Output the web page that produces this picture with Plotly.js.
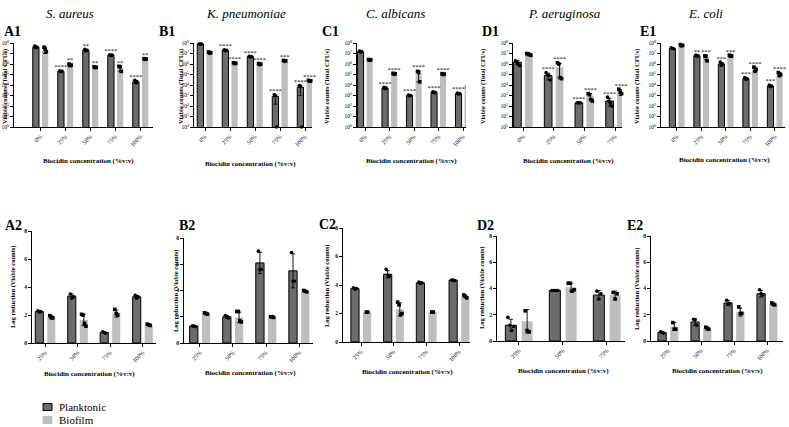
<!DOCTYPE html>
<html><head><meta charset="utf-8">
<script src="https://cdn.plot.ly/plotly-3.0.1.min.js"></script>
<style>html,body{margin:0;padding:0;background:#fff}#chart{width:789px;height:427px}</style>
</head><body><div id="chart"></div>
<script>
// ---- Concentration categories ----
const concFull = ['0%', '25%', '50%', '75%', '100%'];
const concD1 = ['0%', '25%', '50%', '75%'];
const concRed = ['25%', '50%', '75%', '100%'];
const concRedD = ['25%', '50%', '75%'];

// ---- Row 1: viable counts (total CFUs) ----
// S. aureus
const A1_plank = [4e7, 2e5, 2e7, 7e6, 2e4];
const A1_plankUp = [1e7, 3e4, 5e6, 1e6, 8e3];
const A1_plankDn = [1e7, 3e4, 5e6, 1e6, 6e3];
const A1_plankPts = [[5e7, 3.5e7, 4e7], [2.2e5, 1.8e5, 2e5], [2.5e7, 1.8e7, 2e7], [7.5e6, 6.5e6, 7e6], [2.8e4, 1.6e4, 2e4]];
const A1_bio = [2e7, 8e5, 5e5, 4e5, 3e6];
const A1_bioUp = [2e7, 2e5, 5e4, 2e5, 3e5];
const A1_bioDn = [1e7, 2e5, 5e4, 2e5, 3e5];
const A1_bioPts = [[4e7, 2.5e7, 1.5e7], [1e6, 7e5, 8e5], [5.5e5, 4.5e5, 5e5], [6e5, 5.5e5, 2e5], [3.2e6, 2.8e6, 3e6]];
const A1_plankSig = ['', '****', '**', '****', '****'];
const A1_bioSig = ['', '**', '**', '**', '**'];

// K. pneumoniae
const B1_plank = [8e7, 2e7, 5e6, 8e2, 6e3];
const B1_plankUp = [5e6, 2e6, 5e5, 4e2, 3e3];
const B1_plankDn = [5e6, 2e6, 5e5, 6.5e2, 5e3];
const B1_plankPts = [[8.5e7, 7.5e7, 8e7], [2.2e7, 1.8e7, 2e7], [5.5e6, 4.5e6, 5e6], [1.2e3, 1e3, 1], [9e3, 8e3, 1]];
const B1_bio = [1.2e7, 1.2e6, 1e6, 2e6, 2.5e4];
const B1_bioUp = [2e6, 1e5, 1e5, 2e5, 3e3];
const B1_bioDn = [2e6, 1e5, 1e5, 2e5, 3e3];
const B1_bioPts = [[1.4e7, 1.1e7, 1.2e7], [1.3e6, 1.1e6, 1.2e6], [1.1e6, 9e5, 1e6], [2.2e6, 1.9e6, 2e6], [2.8e4, 2.3e4, 2.5e4]];
const B1_plankSig = ['', '****', '****', '****', '****'];
const B1_bioSig = ['', '****', '****', '***', '****'];

// C. albicans
const C1_plank = [1.5e7, 5e3, 1e3, 2e3, 1.5e3];
const C1_plankUp = [2e6, 1e3, 1e2, 3e2, 2e2];
const C1_plankDn = [2e6, 1e3, 1e2, 3e2, 2e2];
const C1_plankPts = [[1.7e7, 1.4e7, 1.5e7], [6e3, 4.5e3, 5e3], [1.1e3, 9e2, 1e3], [2.3e3, 1.8e3, 2e3], [1.7e3, 1.4e3, 1.5e3]];
const C1_bio = [2.5e6, 1.2e5, 1.2e5, 1.1e5, 8e3];
const C1_bioUp = [2e5, 1e4, 1e5, 1e4, 1e3];
const C1_bioDn = [2e5, 1e4, 1e5, 1e4, 1e3];
const C1_bioPts = [[2.7e6, 2.3e6, 2.5e6], [1.3e5, 1.1e5, 1.2e5], [2e5, 1.6e5, 2e4], [1.2e5, 1e5, 1.1e5], [9e3, 7e3, 8e3]];
const C1_plankSig = ['', '****', '****', '****', '****'];
const C1_bioSig = ['', '****', '****', '****', '****'];

// P. aeruginosa
const D1_plank = [1.5e6, 8e4, 2e2, 3e2];
const D1_plankUp = [6e5, 5e4, 2e1, 2.5e2];
const D1_plankDn = [6e5, 5e4, 2e1, 2e2];
const D1_plankPts = [[2e6, 1.5e6, 1e6, 7e5], [1.5e5, 1e5, 8e4, 3e4], [2e2, 2e2, 2e2], [7e2, 3e2, 2e2, 1e2]];
const D1_bio = [8e6, 5e5, 1e3, 2e3];
const D1_bioUp = [2e6, 6e5, 5e2, 1.5e3];
const D1_bioDn = [2e6, 4.5e5, 6e2, 1e3];
const D1_bioPts = [[1e7, 9e6, 8e6, 7e6], [1.3e6, 1e6, 5e4, 4e4], [1.5e3, 1.2e3, 4e2, 3e2], [4e3, 2e3, 1.5e3, 1e3]];
const D1_plankSig = ['', '****', '****', '****'];
const D1_bioSig = ['', '****', '****', '****'];

// E. coli
const E1_plank = [3e7, 6e6, 1e6, 4e4, 8e3];
const E1_plankUp = [4e6, 8e5, 4e5, 8e3, 2e3];
const E1_plankDn = [4e6, 8e5, 4e5, 8e3, 2e3];
const E1_plankPts = [[3.5e7, 3e7, 2.8e7], [7e6, 5.5e6, 6e6], [1.5e6, 8e5, 1e6], [5e4, 3.5e4, 4e4], [1e4, 7e3, 8e3]];
const E1_bio = [6e7, 5e6, 6e6, 3e5, 1e5];
const E1_bioUp = [1e7, 1.5e6, 8e5, 2e5, 5e4];
const E1_bioDn = [1e7, 2.5e6, 8e5, 1e5, 3e4];
const E1_bioPts = [[7e7, 5.5e7, 6e7], [6e6, 5.5e6, 2e6], [7e6, 5.5e6, 6e6], [5e5, 2e5, 3e5], [1.5e5, 8e4, 1e5]];
const E1_plankSig = ['', '**', '***', '***', '***'];
const E1_bioSig = ['', '***', '***', '****', '****'];

// ---- Row 2: log reduction (viable counts) ----
const A2_plank = [2.25, 3.35, 0.75, 3.3];
const A2_plankErr = [0.05, 0.15, 0.05, 0.1];
const A2_plankPts = [[2.3, 2.2, 2.25], [3.5, 3.2, 3.3], [0.8, 0.75, 0.7], [3.4, 3.2, 3.3]];
const A2_bio = [1.85, 1.65, 2.1, 1.3];
const A2_bioErr = [0.1, 0.4, 0.25, 0.05];
const A2_bioPts = [[1.95, 1.8, 1.8], [2.05, 2.0, 1.4, 1.2], [2.4, 2.1, 2.0], [1.35, 1.3, 1.25]];

const B2_plank = [1.3, 2.0, 6.1, 5.5];
const B2_plankErr = [0.05, 0.1, 0.8, 1.3];
const B2_plankPts = [[1.3, 1.3, 1.25], [2.1, 2.0, 1.9], [7.0, 5.6, 5.6], [6.9, 4.7, 4.7]];
const B2_bio = [2.25, 1.95, 2.0, 3.95];
const B2_bioErr = [0.05, 0.4, 0.03, 0.05];
const B2_bioPts = [[2.3, 2.25, 2.2], [2.4, 2.4, 1.7, 1.6], [2.0, 2.0, 1.95], [4.0, 3.95, 3.9]];

const C2_plank = [3.75, 4.75, 4.15, 4.35];
const C2_plankErr = [0.05, 0.25, 0.05, 0.03];
const C2_plankPts = [[3.8, 3.7, 3.75], [5.1, 4.7, 4.6], [4.2, 4.1, 4.15], [4.35, 4.35, 4.3]];
const C2_bio = [2.1, 2.3, 2.1, 3.2];
const C2_bioErr = [0, 0.45, 0, 0.08];
const C2_bioPts = [[2.1, 2.1], [2.8, 2.6, 1.9, 2.0], [2.1, 2.1], [3.3, 3.2, 3.1]];

const D2_plank = [1.2, 3.85, 3.5];
const D2_plankErr = [0.45, 0, 0.35];
const D2_plankPts = [[1.8, 1.2, 0.8, 1.1], [3.85, 3.85, 3.85, 3.85], [3.8, 3.2, 3.6]];
const D2_bio = [1.5, 4.1, 3.5];
const D2_bioErr = [0.9, 0.3, 0.3];
const D2_bioPts = [[2.3, 0.8, 0.7], [4.4, 4.4, 3.8, 3.9], [3.7, 3.2, 3.6]];

const E2_plank = [0.65, 1.45, 2.9, 3.6];
const E2_plankErr = [0.05, 0.25, 0.2, 0.25];
const E2_plankPts = [[0.7, 0.65, 0.6], [1.65, 1.6, 1.2], [3.1, 2.8, 2.85], [3.9, 3.6, 3.5]];
const E2_bio = [1.1, 0.95, 2.2, 2.8];
const E2_bioErr = [0.3, 0.1, 0.3, 0.1];
const E2_bioPts = [[1.4, 0.9, 0.9], [1.05, 0.95, 0.9], [2.6, 2.1, 2.1], [2.9, 2.8, 2.75]];

const speciesNames = ['S. aureus', 'K. pneumoniae', 'C. albicans', 'P. aeruginosa', 'E. coli'];
const legendNames = ['Planktonic', 'Biofilm'];

// ---- Styling ----
const W = 789, H = 427;
const DARK = '#6c6c6c', LIGHT = '#bebebe';
const SERIF = 'Liberation Serif';
const OFF = 0.185, BW = 0.25;

// Panel frames in pixels: [left, right, top, bottom], plus x ranges
const panels = [
  {cats: concFull, plank: A1_plank, pUp: A1_plankUp, pDn: A1_plankDn, pPts: A1_plankPts,
   bio: A1_bio, bUp: A1_bioUp, bDn: A1_bioDn, bPts: A1_bioPts, pSig: A1_plankSig, bSig: A1_bioSig,
   log: true, box: [14, 153, 43, 127], xr: [-1.06, 4.5]},
  {cats: concFull, plank: B1_plank, pUp: B1_plankUp, pDn: B1_plankDn, pPts: B1_plankPts,
   bio: B1_bio, bUp: B1_bioUp, bDn: B1_bioDn, bPts: B1_bioPts, pSig: B1_plankSig, bSig: B1_bioSig,
   log: true, box: [194, 312, 43, 127], xr: [-0.44, 4.28]},
  {cats: concFull, plank: C1_plank, pUp: C1_plankUp, pDn: C1_plankDn, pPts: C1_plankPts,
   bio: C1_bio, bUp: C1_bioUp, bDn: C1_bioDn, bPts: C1_bioPts, pSig: C1_plankSig, bSig: C1_bioSig,
   log: true, box: [357, 466, 43, 127], xr: [-0.33, 4.12]},
  {cats: concD1, plank: D1_plank, pUp: D1_plankUp, pDn: D1_plankDn, pPts: D1_plankPts,
   bio: D1_bio, bUp: D1_bioUp, bDn: D1_bioDn, bPts: D1_bioPts, pSig: D1_plankSig, bSig: D1_bioSig,
   log: true, box: [513, 622, 43, 127], xr: [-0.33, 3.22]},
  {cats: concFull, plank: E1_plank, pUp: E1_plankUp, pDn: E1_plankDn, pPts: E1_plankPts,
   bio: E1_bio, bUp: E1_bioUp, bDn: E1_bioDn, bPts: E1_bioPts, pSig: E1_plankSig, bSig: E1_bioSig,
   log: true, box: [661, 785, 43, 127], xr: [-0.65, 4.41]},
  {cats: concRed, plank: A2_plank, pUp: A2_plankErr, pDn: A2_plankErr, pPts: A2_plankPts,
   bio: A2_bio, bUp: A2_bioErr, bDn: A2_bioErr, bPts: A2_bioPts,
   log: false, box: [32, 156, 231, 343], xr: [-0.41, 3.41]},
  {cats: concRed, plank: B2_plank, pUp: B2_plankErr, pDn: B2_plankErr, pPts: B2_plankPts,
   bio: B2_bio, bUp: B2_bioErr, bDn: B2_bioErr, bPts: B2_bioPts,
   log: false, box: [184, 313, 238, 343], xr: [-0.48, 3.42]},
  {cats: concRed, plank: C2_plank, pUp: C2_plankErr, pDn: C2_plankErr, pPts: C2_plankPts,
   bio: C2_bio, bUp: C2_bioErr, bDn: C2_bioErr, bPts: C2_bioPts,
   log: false, box: [343, 470, 228, 342], xr: [-0.55, 3.33]},
  {cats: concRedD, plank: D2_plank, pUp: D2_plankErr, pDn: D2_plankErr, pPts: D2_plankPts,
   bio: D2_bio, bUp: D2_bioErr, bDn: D2_bioErr, bPts: D2_bioPts,
   log: false, box: [497, 625, 236, 341], xr: [-0.5, 2.41]},
  {cats: concRed, plank: E2_plank, pUp: E2_plankErr, pDn: E2_plankErr, pPts: E2_plankPts,
   bio: E2_bio, bUp: E2_bioErr, bDn: E2_bioErr, bPts: E2_bioPts,
   log: false, box: [651, 783, 236, 341], xr: [-0.52, 3.48]}
];

// Text placements in pixels
const panelTags = [
  ['A1', 2, 32], ['B1', 157, 32], ['C1', 320, 32], ['D1', 480, 32], ['E1', 638, 32],
  ['A2', 3, 225], ['B2', 177, 225], ['C2', 317, 224], ['D2', 475, 225], ['E2', 625, 225]
];
const speciesPos = [[70, 13], [246, 13], [395, 13], [564, 13], [705, 13]];
const xTitlePos = [[88, 161], [250, 164], [411, 161], [568, 161], [724, 160],
                   [89, 374], [250, 373], [407, 372], [563, 371], [717, 371]];
const yTitlePos = [[5, 87], [181, 87], [327, 87], [483, 87], [637, 87],
                   [13, 287], [176, 291], [327, 286], [482, 288], [637, 289]];

const px = v => v / W;
const py = v => 1 - v / H;

const traces = [];
const layout = {
  width: W, height: H,
  margin: {l: 0, r: 0, t: 0, b: 0},
  paper_bgcolor: '#fff', plot_bgcolor: 'rgba(0,0,0,0)',
  showlegend: false, barmode: 'overlay',
  font: {family: SERIF, color: '#000'},
  annotations: [], shapes: []
};

const logTickVals = [0, 1, 2, 3, 4, 5, 6, 7, 8].map(e => Math.pow(10, e));
const logTickText = [0, 1, 2, 3, 4, 5, 6, 7, 8].map(e => '10<sup>' + e + '</sup>');

panels.forEach((p, k) => {
  const n = k + 1;
  const xa = 'x' + (n === 1 ? '' : n), ya = 'y' + (n === 1 ? '' : n);
  const idx = p.cats.map((c, i) => i);
  const [l, r, t, b] = p.box;

  layout['xaxis' + (n === 1 ? '' : n)] = {
    domain: [px(l), px(r)], anchor: ya, range: p.xr,
    tickvals: idx, ticktext: p.cats, tickangle: -45,
    tickfont: {family: SERIF, size: 6, color: '#000'},
    showline: true, linecolor: '#000', linewidth: 1.4,
    ticks: 'outside', ticklen: 2.5, tickwidth: 1, tickcolor: '#000',
    showgrid: false, zeroline: false, fixedrange: true
  };
  const yax = {
    domain: [py(b), py(t)], anchor: xa,
    showline: true, linecolor: '#000', linewidth: 1.4,
    ticks: 'outside', ticklen: 2.5, tickwidth: 1, tickcolor: '#000',
    showgrid: false, zeroline: false, fixedrange: true
  };
  if (p.log) {
    Object.assign(yax, {type: 'log', range: [0, 8], tickvals: logTickVals, ticktext: logTickText,
      tickfont: {family: SERIF, size: 5.5, color: '#000'}});
  } else {
    Object.assign(yax, {range: [0, 8], tickvals: [0, 2, 4, 6, 8],
      tickfont: {family: SERIF, size: 5.5, color: '#000', weight: 'bold'}});
  }
  layout['yaxis' + (n === 1 ? '' : n)] = yax;

  // bars with SD whiskers
  traces.push({
    type: 'bar', xaxis: xa, yaxis: ya, x: idx.map(i => i - OFF), y: p.plank, width: BW,
    marker: {color: DARK, line: {color: '#000', width: 1}},
    error_y: {type: 'data', symmetric: false, array: p.pUp, arrayminus: p.pDn,
              color: '#000', thickness: 0.9, width: 2}
  });
  traces.push({
    type: 'bar', xaxis: xa, yaxis: ya, x: idx.map(i => i + OFF), y: p.bio, width: BW,
    marker: {color: LIGHT, line: {color: LIGHT, width: 0}},
    error_y: {type: 'data', symmetric: false, array: p.bUp, arrayminus: p.bDn,
              color: '#000', thickness: 0.9, width: 2}
  });

  // replicate points
  const pointTrace = (pts, shift, symbol) => {
    const xs = [], ys = [];
    pts.forEach((arr, i) => arr.forEach((v, j) => {
      xs.push(i + shift + (j - (arr.length - 1) / 2) * 0.045);
      ys.push(v);
    }));
    return {type: 'scatter', mode: 'markers', xaxis: xa, yaxis: ya, x: xs, y: ys,
            marker: {color: '#000', size: 3.6, symbol: symbol}, cliponaxis: false};
  };
  traces.push(pointTrace(p.pPts, -OFF, 'circle'));
  traces.push(pointTrace(p.bPts, OFF, 'square'));

  // significance stars above each group
  if (p.pSig) {
    const topOf = (vals, up, pts) => vals.map((v, i) => Math.max(v + up[i], ...pts[i]));
    traces.push({type: 'scatter', mode: 'text', xaxis: xa, yaxis: ya,
      x: idx.map(i => i - OFF), y: topOf(p.plank, p.pUp, p.pPts), text: p.pSig,
      textposition: 'top center', textfont: {family: SERIF, size: 6.5, color: '#000'}, cliponaxis: false});
    traces.push({type: 'scatter', mode: 'text', xaxis: xa, yaxis: ya,
      x: idx.map(i => i + OFF), y: topOf(p.bio, p.bUp, p.bPts), text: p.bSig,
      textposition: 'top center', textfont: {family: SERIF, size: 6.5, color: '#000'}, cliponaxis: false});
  }

  // axis titles
  layout.annotations.push({
    xref: 'paper', yref: 'paper', x: px(xTitlePos[k][0]), y: py(xTitlePos[k][1]),
    text: '<b>Biocidin concentration (%v:v)</b>', showarrow: false, xanchor: 'center', yanchor: 'middle',
    font: {family: SERIF, size: 7, color: '#000'}
  });
  layout.annotations.push({
    xref: 'paper', yref: 'paper', x: px(yTitlePos[k][0]), y: py(yTitlePos[k][1]),
    text: p.log ? '<b>Viable counts (Total CFUs)</b>' : '<b>Log reduction (Viable counts)</b>',
    textangle: -90, showarrow: false, xanchor: 'center', yanchor: 'middle',
    font: {family: SERIF, size: 6.5, color: '#000'}
  });
  layout.annotations.push({
    xref: 'paper', yref: 'paper', x: px(panelTags[k][1]), y: py(panelTags[k][2]),
    text: '<b>' + panelTags[k][0] + '</b>', showarrow: false, xanchor: 'left', yanchor: 'middle',
    font: {family: SERIF, size: 14, color: '#000'}
  });
});

speciesNames.forEach((s, i) => {
  layout.annotations.push({
    xref: 'paper', yref: 'paper', x: px(speciesPos[i][0]), y: py(speciesPos[i][1]),
    text: '<i>' + s + '</i>', showarrow: false, xanchor: 'center', yanchor: 'middle',
    font: {family: SERIF, size: 13, color: '#000'}
  });
});

// key for the two culture states
const keyRows = [{name: legendNames[0], fill: DARK, line: '#000', y: 407},
                 {name: legendNames[1], fill: LIGHT, line: LIGHT, y: 420}];
keyRows.forEach(row => {
  layout.shapes.push({type: 'rect', xref: 'paper', yref: 'paper',
    x0: px(43), x1: px(52), y0: py(row.y + 3.5), y1: py(row.y - 3.5),
    fillcolor: row.fill, line: {color: row.line, width: 1}});
  layout.annotations.push({xref: 'paper', yref: 'paper', x: px(57), y: py(row.y),
    text: row.name, showarrow: false, xanchor: 'left', yanchor: 'middle',
    font: {family: SERIF, size: 11, color: '#000'}});
});

Plotly.newPlot('chart', traces, layout, {staticPlot: true, displayModeBar: false});
</script></body></html>
